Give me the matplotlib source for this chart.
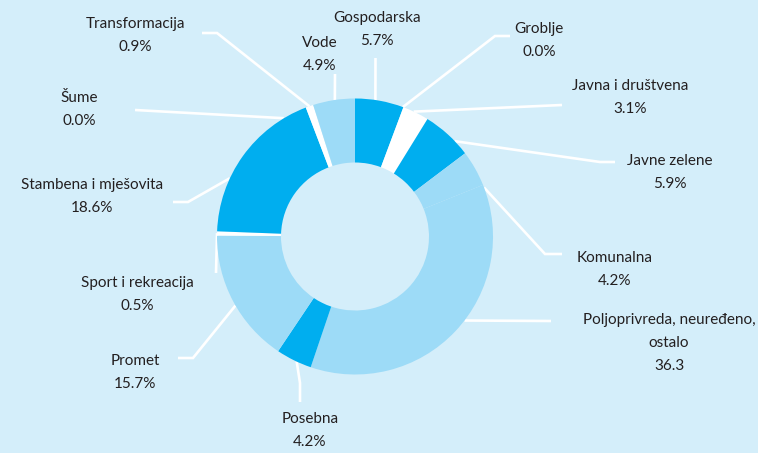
import matplotlib
matplotlib.use("Agg")
import matplotlib.pyplot as plt
import numpy as np

# ---- data ----
categories = ["Gospodarska", "Groblje", "Javna i društvena", "Javne zelene",
              "Komunalna", "Poljoprivreda, neuređeno,\nostalo", "Posebna",
              "Promet", "Sport i rekreacija", "Stambena i mješovita", "Šume",
              "Transformacija", "Vode"]
values = [5.7, 0.0, 3.1, 5.9, 4.2, 36.3, 4.2, 15.7, 0.5, 18.6, 0.0, 0.9, 4.9]
value_labels = ["5.7%", "0.0%", "3.1%", "5.9%", "4.2%", "36.3", "4.2%",
                "15.7%", "0.5%", "18.6%", "0.0%", "0.9%", "4.9%"]

# ---- style ----
BG = "#D4EEFA"
DARK = "#00AEEF"
LIGHT = "#9DDBF7"
WHITE = "#FFFFFF"
TXT = "#231F20"
colors = [DARK, WHITE, WHITE, DARK, LIGHT, LIGHT, DARK, LIGHT, WHITE, DARK,
          WHITE, WHITE, LIGHT]

# ---- layout (pixel coordinates, y downward) ----
W_PX, H_PX = 758, 453
cx, cy = 355, 236.5
R, RING = 138, 64
# leader anchor angle on outer ring (deg clockwise from top)
anchor_deg = [8.5, 20.3, 25.2, 46.3, 69.2, 127.5, 205, 240, 271.4, 295, 329,
              340.7, 351.6]
elbows = [
    [(375.5, 58)],
    [(495, 36), (510, 36)],
    [(562, 105)],
    [(600, 162), (615, 162)],
    [(545, 254), (562, 254)],
    [(551, 321)],
    [(300, 383), (300, 402)],
    [(193, 358), (178, 358)],
    [(216, 273)],
    [(188, 202), (173, 202)],
    [(135, 110)],
    [(217, 33), (202, 33)],
    [(335, 74)],
]
label_pos = [
    (377, 18), (539, 29), (630, 86), (670, 161), (615, 258), (669, 320),
    (310, 419), (135, 361), (137, 283), (92, 185), (79.5, 98), (135, 24),
    (319.5, 43),
]
LINE_STEP = 23

plt.rcParams["font.family"] = ["Lato", "DejaVu Sans"]

fig = plt.figure(figsize=(W_PX / 100, H_PX / 100), dpi=100, facecolor=BG)
ax = fig.add_axes([0, 0, 1, 1])
ax.set_facecolor(BG)

ax.pie(values, colors=colors, startangle=-90, counterclock=True, radius=R,
       center=(cx, cy), wedgeprops=dict(width=RING, linewidth=0),
       frame=False)

ax.set_xlim(0, W_PX)
ax.set_ylim(H_PX, 0)
ax.set_aspect("auto")
ax.axis("off")

for i, cat in enumerate(categories):
    th = np.deg2rad(anchor_deg[i])
    x0 = cx + R * np.sin(th)
    y0 = cy - R * np.cos(th)
    pts = [(x0, y0)] + elbows[i]
    xs = [p[0] for p in pts]
    ys = [p[1] for p in pts]
    ax.plot(xs, ys, color="white", lw=1.9, zorder=0.5,
            solid_capstyle="butt", solid_joinstyle="miter")
    lines = cat.split("\n") + [value_labels[i]]
    lx, ly = label_pos[i]
    for k, t in enumerate(lines):
        ax.text(lx, ly + k * LINE_STEP, t, ha="center", va="center",
                fontsize=11, color=TXT)

fig.savefig("out.png", dpi=100, facecolor=BG)
